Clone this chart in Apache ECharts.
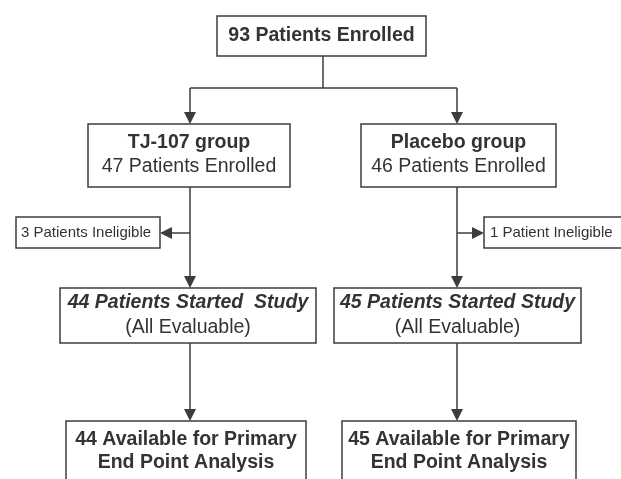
<!DOCTYPE html>
<html>
<head>
<meta charset="utf-8">
<script src="https://cdn.jsdelivr.net/npm/echarts@6/dist/echarts.min.js"></script>
<style>
  html, body { margin: 0; padding: 0; background: #fff; }
  #chart { width: 621px; height: 479px; }
</style>
</head>
<body>
<div id="chart"></div>
<script>
// flow counts
const totalEnrolled = 93
const groupNames = ['TJ-107 group', 'Placebo group']
const groupEnrolled = [47, 46]
const groupIneligible = [3, 1]
const groupStarted = [44, 45]
const groupAvailable = [44, 45]

// layout (canvas units, y grows down)
const W = 621
const H = 479
const colX = [190, 457]
const lineColor = '#3c3c3c'
const textColor = '#333'
const arrowColor = '#2f3d38'
const font = '"Liberation Sans", Arial, sans-serif'
const fs = 19.5

function ineligibleText(n) {
  return n + (n === 1 ? ' Patient Ineligible' : ' Patients Ineligible')
}

// boxes: rect [x0, y0, x1, y1] plus text lines [text, y, weight, style, size]
const boxes = [
  { rect: [217, 16, 426, 56], lines: [[totalEnrolled + ' Patients Enrolled', 36, 'bold', 'normal', fs]] },
  { rect: [88, 124, 290, 187], lines: [[groupNames[0], 143, 'bold', 'normal', fs], [groupEnrolled[0] + ' Patients Enrolled', 167, 'normal', 'normal', fs]] },
  { rect: [361, 124, 556, 187], lines: [[groupNames[1], 143, 'bold', 'normal', fs], [groupEnrolled[1] + ' Patients Enrolled', 167, 'normal', 'normal', fs]] },
  { rect: [16, 217, 160, 248], lines: [[ineligibleText(groupIneligible[0]), 233, 'normal', 'normal', 15]], align: 'left', tx: 21 },
  { rect: [484, 217, 640, 248], lines: [[ineligibleText(groupIneligible[1]), 233, 'normal', 'normal', 15]], align: 'left', tx: 490 },
  { rect: [60, 288, 316, 343], lines: [[groupStarted[0] + ' Patients Started  Study', 303, 'bold', 'italic', fs], ['(All Evaluable)', 328, 'normal', 'normal', fs]] },
  { rect: [334, 288, 581, 343], lines: [[groupStarted[1] + ' Patients Started Study', 303, 'bold', 'italic', fs], ['(All Evaluable)', 328, 'normal', 'normal', fs]] },
  { rect: [66, 421, 306, 495], lines: [[groupAvailable[0] + ' Available for Primary', 440, 'bold', 'normal', fs], ['End Point Analysis', 463, 'bold', 'normal', fs]] },
  { rect: [342, 421, 576, 495], lines: [[groupAvailable[1] + ' Available for Primary', 440, 'bold', 'normal', fs], ['End Point Analysis', 463, 'bold', 'normal', fs]] }
]

// plain connector segments
const segments = [
  [[323, 56], [323, 88]],
  [[colX[0], 88], [colX[1], 88]]
]
// arrow segments (head centred 6 units before the box edge)
const arrows = [
  [[colX[0], 88], [colX[0], 118]],
  [[colX[1], 88], [colX[1], 118]],
  [[colX[0], 187], [colX[0], 282]],
  [[colX[0], 233], [166, 233]],
  [[colX[1], 187], [colX[1], 282]],
  [[colX[1], 233], [478, 233]],
  [[colX[0], 343], [colX[0], 415]],
  [[colX[1], 343], [colX[1], 415]]
]

const myChart = echarts.init(document.getElementById('chart'))

const option = {
  backgroundColor: '#fff',
  animation: false,
  grid: { left: 0, right: 0, top: 0, bottom: 0 },
  xAxis: { type: 'value', min: 0, max: W, show: false },
  yAxis: { type: 'value', min: 0, max: H, inverse: true, show: false },
  series: [
    {
      type: 'lines',
      coordinateSystem: 'cartesian2d',
      symbol: 'none',
      silent: true,
      lineStyle: { color: lineColor, width: 1.5, opacity: 1 },
      data: segments.map(c => ({ coords: c }))
    },
    {
      type: 'lines',
      coordinateSystem: 'cartesian2d',
      symbol: ['none', 'triangle'],
      symbolSize: 12,
      silent: true,
      lineStyle: { color: lineColor, width: 1.5, opacity: 1 },
      itemStyle: { color: arrowColor },
      data: arrows.map(c => ({ coords: c }))
    },
    {
      type: 'custom',
      coordinateSystem: 'cartesian2d',
      silent: true,
      z: 5,
      data: boxes.map((b, i) => [i]),
      renderItem: function(params, api) {
        const b = boxes[params.dataIndex]
        const p0 = api.coord([b.rect[0], b.rect[1]])
        const p1 = api.coord([b.rect[2], b.rect[3]])
        const children = [{
          type: 'rect',
          shape: { x: p0[0], y: p0[1], width: p1[0] - p0[0], height: p1[1] - p0[1] },
          style: { fill: '#fff', stroke: lineColor, lineWidth: 1.5 }
        }]
        b.lines.forEach(l => {
          const pos = api.coord([b.align === 'left' ? b.tx : (b.rect[0] + b.rect[2]) / 2, l[1]])
          children.push({
            type: 'text',
            x: pos[0],
            y: pos[1],
            style: {
              text: l[0],
              fill: textColor,
              font: l[3] + ' ' + l[2] + ' ' + l[4] + 'px ' + font,
              align: b.align || 'center',
              verticalAlign: 'middle'
            }
          })
        })
        return { type: 'group', children: children }
      }
    }
  ]
}

myChart.setOption(option)
</script>
</body>
</html>
